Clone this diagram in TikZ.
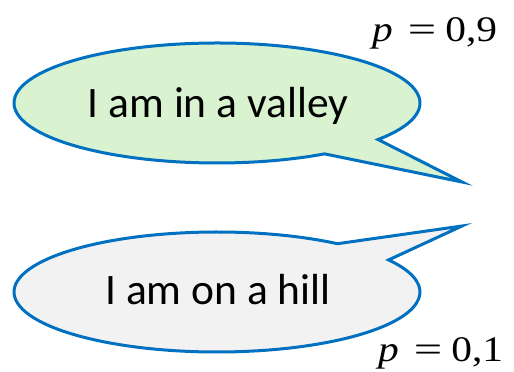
\documentclass[tikz,border=0pt]{standalone}
\usepackage{fontspec}
\usepackage{graphicx}
\setmainfont{Carlito}
\newfontfamily\plabelfont{Liberation Serif}
\usetikzlibrary{calc}
\definecolor{outlineblue}{RGB}{0,112,192}
\definecolor{valleygreen}{RGB}{217,242,208}
\definecolor{hillgray}{RGB}{242,242,242}
\tikzset{
  bubble/.style={draw=outlineblue, line width=3pt, line join=miter},
  bubbletext/.style={font=\fontsize{43.5}{50}\selectfont, anchor=base, inner sep=0pt},
  plabel/.style={font=\plabelfont\fontsize{36}{40}\selectfont, anchor=base west, inner sep=0pt}
}
\newcommand{\plab}[1]{\scalebox{1.15}[1]{\textit{p}}\hspace{15pt}\scalebox{1.4}[1]{=}\hspace{9pt}\scalebox{1.15}[1]{#1}}
\begin{document}
\begin{tikzpicture}[x=1pt,y=1pt]
\useasboundingbox (0,0) rectangle (514,372);
% centres and pointer tips (y measured upward)
\coordinate (c1) at (217,269);
\coordinate (tip1) at (462,190);
\coordinate (c2) at (217,80);
\coordinate (tip2) at (462,146);
% top bubble
\draw[bubble, fill=valleygreen]
  ($(c1)+(-37.5:203pt and 60pt)$)
  arc[start angle=-37.5, end angle=302, x radius=203pt, y radius=60pt]
  -- (tip1) -- cycle;
% bottom bubble
\draw[bubble, fill=hillgray]
  ($(c2)+(53.6:203pt and 60pt)$)
  arc[start angle=53.6, end angle=392.3, x radius=203pt, y radius=60pt]
  -- (tip2) -- cycle;
\node[bubbletext] (valley) at (218,254) {I am in a valley};
\node[bubbletext] (hill) at (218,67) {I am on a hill};
\node[plabel] (p1) at (372,330) {\plab{0,9}};
\node[plabel] (p2) at (378,10) {\plab{0,1}};
\end{tikzpicture}
\end{document}
